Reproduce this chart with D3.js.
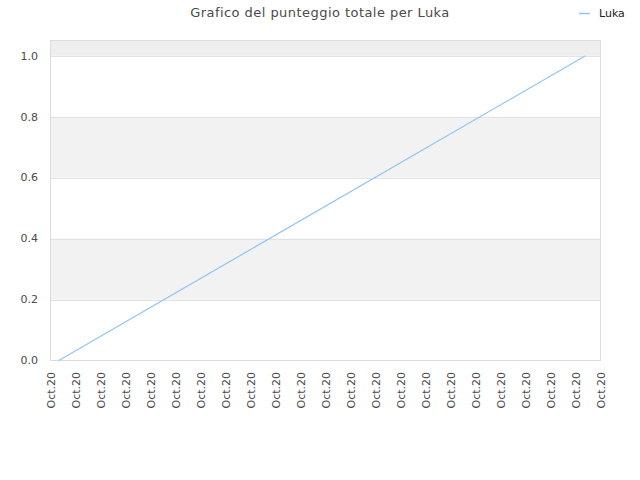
<!DOCTYPE html>
<html><head><meta charset="utf-8">
<script src="https://cdn.jsdelivr.net/npm/d3@7"></script>
<style>body{margin:0;background:#fff}svg{display:block}text{font-family:"DejaVu Sans",sans-serif}</style>
</head><body>
<svg id="c" width="640" height="480"></svg>
<script>
const title = "Grafico del punteggio totale per Luka";
const seriesName = "Luka";
const tickLabels = ["Oct.20","Oct.20","Oct.20","Oct.20","Oct.20","Oct.20","Oct.20","Oct.20","Oct.20","Oct.20","Oct.20","Oct.20","Oct.20","Oct.20","Oct.20","Oct.20","Oct.20","Oct.20","Oct.20","Oct.20","Oct.20","Oct.20","Oct.20"];
const pointX = [0.33, 21.4];
const pointY = [0, 1];
const yTicks = [0, 0.2, 0.4, 0.6, 0.8, 1.0];

const svg = d3.select("#c");
const m = {l:50.5, r:600.5, t:40.5, b:360.5};
const x = d3.scaleLinear().domain([0, tickLabels.length-1]).range([m.l, m.r]);
const y = d3.scaleLinear().domain([0, 1.05]).range([m.b, m.t]);

// bands
const bands = [[0.2,0.4,"#f2f2f2"],[0.6,0.8,"#f2f2f2"],[1.0,1.05,"#eeeeee"]];
svg.selectAll("rect.band").data(bands).enter().append("rect")
  .attr("x", m.l).attr("width", m.r-m.l)
  .attr("y", d=>y(d[1])).attr("height", d=>y(d[0])-y(d[1]))
  .attr("fill", d=>d[2]);
// grid
svg.selectAll("line.grid").data(yTicks.slice(1)).enter().append("line")
  .attr("x1", m.l).attr("x2", m.r).attr("y1", d=>Math.round(y(d))+0.5).attr("y2", d=>Math.round(y(d))+0.5)
  .attr("stroke", "#e2e2e2");
// frame
svg.append("rect").attr("x", m.l).attr("y", m.t).attr("width", m.r-m.l).attr("height", m.b-m.t)
  .attr("fill","none").attr("stroke","#dcdcdc");

// y labels
svg.selectAll("text.yl").data(yTicks).enter().append("text")
  .attr("x", 38).attr("y", d=>y(d)).attr("dy","0.35em").attr("text-anchor","end")
  .attr("font-size", 11).attr("fill","#4a4a4a").text(d=>d.toFixed(1));

// x labels
svg.selectAll("text.xl").data(tickLabels).enter().append("text")
  .attr("transform", (d,i)=>`translate(${x(i)+4},372) rotate(-90)`)
  .attr("text-anchor","end").attr("font-size", 11).attr("fill","#4a4a4a").text(d=>d);

// line
const pts = pointX.map((v,i)=>[v, pointY[i]]);
svg.append("path").datum(pts)
  .attr("d", d3.line().x(d=>x(d[0])).y(d=>y(d[1])))
  .attr("fill","none").attr("stroke","#90c4f5").attr("stroke-width",1.2);

// title
svg.append("text").attr("x", 320).attr("y", 17).attr("text-anchor","middle")
  .attr("font-size", 13).attr("letter-spacing", 0.45).attr("fill","#4a4a4a").text(title);

// legend
svg.append("line").attr("x1",579).attr("x2",590).attr("y1",13.5).attr("y2",13.5)
  .attr("stroke","#90c4f5").attr("stroke-width",1.5);
svg.append("text").attr("x",599).attr("y",16.5).attr("font-size",11).attr("fill","#222").text(seriesName);
</script>
</body></html>
